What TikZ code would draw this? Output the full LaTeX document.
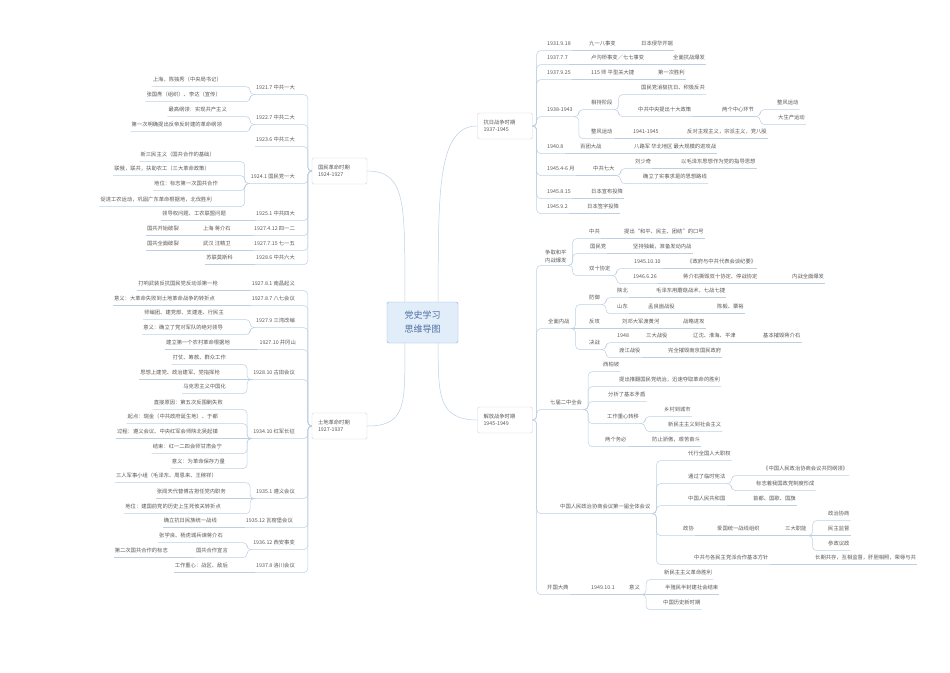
\documentclass[tikz,border=0pt]{standalone}
\usepackage{fontspec}
\setmainfont{Noto Sans CJK SC}
\usepackage{tikz}

\definecolor{txtgray}{HTML}{5A5A5A}
\definecolor{linkblue}{HTML}{BCD0E4}
\definecolor{boxgray}{HTML}{D6D6D6}
\definecolor{rootfill}{HTML}{E2EDFA}
\definecolor{rootdraw}{HTML}{8FB3DB}
\definecolor{roottext}{HTML}{4D6FA0}

\tikzset{
  base/.style={font=\fontsize{5.3}{8}\selectfont, text=txtgray, inner xsep=1pt},
  rt/.style={base, anchor=west, inner ysep=3.5pt, text height=4.6pt, text depth=1.2pt},
  lt/.style={base, anchor=east, inner ysep=3.5pt, text height=4.6pt, text depth=1.2pt},
  period/.style={draw=boxgray, fill=white, rounded corners=1.5pt, align=left,
    font=\fontsize{5.3}{7.5}\selectfont, text=txtgray, text width=43pt,
    inner xsep=6pt, minimum height=26pt},
  root/.style={draw=rootdraw, fill=rootfill, rounded corners=1.5pt, align=center,
    font=\fontsize{9}{14}\selectfont, text=roottext, minimum width=71pt, minimum height=41pt},
  link/.style={draw=linkblue, line width=0.5pt, rounded corners=4pt}
}

\begin{document}
\begin{tikzpicture}[x=1pt,y=-1pt]
    \fill[white] (0,0) rectangle (950,672);
    \useasboundingbox (0,0) rectangle (950,672);
    % Centre
    \node[root] (root) at (422.5,322.5) {党史学习\\思维导图};
    % Periods
    \node[period] (gm) at (339.5,171) {国民革命时期\\1924-1927};
    \node[period] (td) at (339.5,426) {土地革命时期\\1927-1937};
    \node[period] (kr) at (505,126) {抗日战争时期\\1937-1945};
    \node[period] (jf) at (505,420) {解放战争时期\\1945-1949};
    \draw[link] ([xshift=18pt]root.north west) .. controls +(0,-95) and +(40,0) .. (gm.east);
    \draw[link] ([xshift=18pt]root.south west) .. controls +(0,60) and +(40,0) .. (td.east);
    \draw[link] ([xshift=-20pt]root.north east) .. controls +(0,-110) and +(-40,0) .. (kr.west);
    \draw[link] ([xshift=-20pt]root.south east) .. controls +(0,50) and +(-40,0) .. (jf.west);

    % 国民革命时期
    \node[lt] (g1) at (296,88) {1921.7 中共一大};
    \node[lt] (g1a) at (223,80) {上海，陈独秀（中央局书记）};
    \node[lt] (g1b) at (222,95) {张国焘（组织）、李达（宣传）};
    \node[lt] (g2) at (296,118) {1922.7 中共二大};
    \node[lt] (g2a) at (228,110) {最高纲领：实现共产主义};
    \node[lt] (g2b) at (223,125) {第一次明确提出反帝反封建的革命纲领};
    \node[lt] (g3) at (296,140) {1923.6 中共三大};
    \node[lt] (g4) at (296,177) {1924.1 国民党一大};
    \node[lt] (g4a) at (216,155) {新三民主义（国共合作的基础）};
    \node[lt] (g4b) at (211,169) {联俄，联共，扶助农工（三大革命政策）};
    \node[lt] (g4c) at (219,184) {地位：标志第一次国共合作};
    \node[lt] (g4d) at (213,200) {促进工农运动，巩固广东革命根据地，北伐胜利};
    \node[lt] (g5) at (296,214) {1925.1 中共四大};
    \node[lt] (g5a) at (227,214) {领导权问题、工农联盟问题};
    \node[lt] (g6) at (296,229) {1927.4.12 四一二};
    \node[lt] (g6a) at (232,229) {上海 蒋介石};
    \node[lt] (g6b) at (180,229) {国共开始破裂};
    \node[lt] (g7) at (296,244) {1927.7.15 七一五};
    \node[lt] (g7a) at (232,244) {武汉 汪精卫};
    \node[lt] (g7b) at (180,244) {国共全面破裂};
    \node[lt] (g8) at (296,258) {1928.6 中共六大};
    \node[lt] (g8a) at (234,258) {苏联莫斯科};

    % 土地革命时期
    \node[lt] (t1) at (296,284) {1927.8.1 南昌起义};
    \node[lt] (t1a) at (219,284) {打响武装反抗国民党反动派第一枪};
    \node[lt] (t2) at (296,299) {1927.8.7 八七会议};
    \node[lt] (t2a) at (216,299) {意义：大革命失败到土地革命战争的转折点};
    \node[lt] (t3) at (296,321) {1927.9 三湾改编};
    \node[lt] (t3a) at (225,313) {师编团、建党部、支建连、行民主};
    \node[lt] (t3b) at (224,328) {意义：确立了党对军队的绝对领导};
    \node[lt] (t4) at (297,343) {1927.10 井冈山};
    \node[lt] (t4a) at (231,343) {建立第一个农村革命根据地};
    \node[lt] (t5) at (296,373) {1928.10 古田会议};
    \node[lt] (t5a) at (227,358) {打仗、筹款、群众工作};
    \node[lt] (t5b) at (221,373) {思想上建党、政治建军、党指挥枪};
    \node[lt] (t5c) at (227,387) {马克思主义中国化};
    \node[lt] (t6) at (296,432) {1934.10 红军长征};
    \node[lt] (t6a) at (224,403) {直接原因：第五次反围剿失败};
    \node[lt] (t6b) at (219,417) {起点：瑞金（中共政府诞生地）、于都};
    \node[lt] (t6c) at (219,432) {过程：遵义会议、中央红军会师陕北吴起镇};
    \node[lt] (t6d) at (223,447) {结束：红一二四会师甘肃会宁};
    \node[lt] (t6e) at (226,462) {意义：为革命保存力量};
    \node[lt] (t7) at (296,492) {1935.1 遵义会议};
    \node[lt] (t7a) at (218,476) {三人军事小组（毛泽东、周恩来、王稼祥）};
    \node[lt] (t7b) at (227,492) {张闻天代替博古担任党内职务};
    \node[lt] (t7c) at (222,507) {地位：建国前党的历史上生死攸关转折点};
    \node[lt] (t8) at (294,521) {1935.12 瓦窑堡会议};
    \node[lt] (t8a) at (218,521) {确立抗日民族统一战线};
    \node[lt] (t9) at (296,543) {1936.12 西安事变};
    \node[lt] (t9a) at (224,536) {张学良、杨虎城兵谏蒋介石};
    \node[lt] (t9b) at (229,551) {国共合作宣言};
    \node[lt] (t9b1) at (169,551) {第二次国共合作的标志};
    \node[lt] (t10) at (296,566) {1937.8 洛川会议};
    \node[lt] (t10a) at (229,566) {工作重心：战区、敌后};

    % 抗日战争时期
    \node[rt] (k1) at (546,44) {1931.9.18};
    \node[rt] (k1a) at (588,44) {九一八事变};
    \node[rt] (k1b) at (640,44) {日本侵华开端};
    \node[rt] (k2) at (546,58) {1937.7.7};
    \node[rt] (k2a) at (590,58) {卢沟桥事变／七七事变};
    \node[rt] (k2b) at (672,58) {全面抗战爆发};
    \node[rt] (k3) at (546,73) {1937.9.25};
    \node[rt] (k3a) at (590,73) {115 师 平型关大捷};
    \node[rt] (k3b) at (657,73) {第一次胜利};
    \node[rt] (k4) at (546,110) {1938-1943};
    \node[rt] (k4a) at (590,103) {相持阶段};
    \node[rt] (k4a1) at (640,88) {国民党消极抗日、积极反共};
    \node[rt] (k4a2) at (637,110) {中共中央提出十大政策};
    \node[rt] (k4a3) at (721,110) {两个中心环节};
    \node[rt] (k4a4) at (776,103) {整风运动};
    \node[rt] (k4a5) at (777,118) {大生产运动};
    \node[rt] (k4b) at (590,132) {整风运动};
    \node[rt] (k4b1) at (632,132) {1941-1945};
    \node[rt] (k4b2) at (686,132) {反对主观主义，宗派主义，党八股};
    \node[rt] (k5) at (546,147) {1940.8};
    \node[rt] (k5a) at (579,147) {百团大战};
    \node[rt] (k5b) at (633,147) {八路军 华北地区 最大规模的进攻战};
    \node[rt] (k6) at (546,169) {1945.4-6 月};
    \node[rt] (k6a) at (592,169) {中共七大};
    \node[rt] (k6b) at (634,162) {刘少奇};
    \node[rt] (k6c) at (680,162) {以毛泽东思想作为党的指导思想};
    \node[rt] (k6d) at (642,177) {确立了实事求是的思想路线};
    \node[rt] (k7) at (546,192) {1945.8.15};
    \node[rt] (k7a) at (590,192) {日本宣布投降};
    \node[rt] (k8) at (546,207) {1945.9.2};
    \node[rt] (k8a) at (586,207) {日本签字投降};

    % 解放战争时期
    \node[base, anchor=south west, align=center, inner ysep=2pt] (j1) at (544,265.5) {争取和平\\内战爆发};
    \node[rt] (j1a) at (588,232) {中共};
    \node[rt] (j1a1) at (623,232) {提出“和平、民主、团结”的口号};
    \node[rt] (j1b) at (589,247) {国民党};
    \node[rt] (j1b1) at (632,247) {坚持独裁，准备发动内战};
    \node[rt] (j1c) at (588,269) {双十协定};
    \node[rt] (j1c1) at (633,262) {1945.10.10};
    \node[rt] (j1c1a) at (686,262) {《政府与中共代表会谈纪要》};
    \node[rt] (j1c2) at (632,277) {1946.6.26};
    \node[rt] (j1c2a) at (682,277) {蒋介石撕毁双十协定、停战协定};
    \node[rt] (j1c2b) at (791,277) {内战全面爆发};
    \node[rt] (j2) at (547,322) {全面内战};
    \node[rt] (j2a) at (588,298) {防御};
    \node[rt] (j2a1) at (616,291) {陕北};
    \node[rt] (j2a1a) at (655,291) {毛泽东用蘑菇战术，七战七捷};
    \node[rt] (j2a2) at (616,307) {山东};
    \node[rt] (j2a2a) at (647,307) {孟良崮战役};
    \node[rt] (j2a2b) at (716,307) {陈毅、粟裕};
    \node[rt] (j2b) at (588,322) {反攻};
    \node[rt] (j2b1) at (621,322) {刘邓大军渡黄河};
    \node[rt] (j2b2) at (682,322) {战略进攻};
    \node[rt] (j2c) at (588,343) {决战};
    \node[rt] (j2c1) at (616,336) {1948};
    \node[rt] (j2c1a) at (645,336) {三大战役};
    \node[rt] (j2c1b) at (692,336) {辽沈、淮海、平津};
    \node[rt] (j2c1c) at (762,336) {基本摧毁蒋介石};
    \node[rt] (j2c2) at (618,351) {渡江战役};
    \node[rt] (j2c2a) at (667,351) {完全摧毁南京国民政府};
    \node[rt] (j3) at (549,403) {七届二中全会};
    \node[rt] (j3a) at (602,365) {西柏坡};
    \node[rt] (j3b) at (618,380) {提出推翻国民党统治，迅速夺取革命的胜利};
    \node[rt] (j3c) at (607,395) {分析了基本矛盾};
    \node[rt] (j3d) at (606,417) {工作重心转移};
    \node[rt] (j3d1) at (663,410) {乡村到城市};
    \node[rt] (j3d2) at (667,425) {新民主主义到社会主义};
    \node[rt] (j3e) at (604,440) {两个务必};
    \node[rt] (j3e1) at (651,440) {防止骄傲，艰苦奋斗};
    \node[rt] (j4) at (559,507) {中国人民政治协商会议第一届全体会议};
    \node[rt] (j4a) at (687,454) {代行全国人大职权};
    \node[rt] (j4b) at (687,477) {通过了临时宪法};
    \node[rt] (j4b1) at (762,469) {《中国人民政治协商会议共同纲领》};
    \node[rt] (j4b2) at (755,484) {标志着我国政党制度形成};
    \node[rt] (j4c) at (687,499) {中国人民共和国};
    \node[rt] (j4c1) at (752,499) {首都、国歌、国旗};
    \node[rt] (j4d) at (682,529) {政协};
    \node[rt] (j4d1) at (716,529) {爱国统一战线组织};
    \node[rt] (j4d2) at (784,529) {三大职能};
    \node[rt] (j4d3) at (827,514) {政治协商};
    \node[rt] (j4d4) at (827,529) {民主监督};
    \node[rt] (j4d5) at (827,544) {参政议政};
    \node[rt] (j4e) at (693,558) {中共与各民主党派合作基本方针};
    \node[rt] (j4e1) at (814,558) {长期共存，互相监督，肝胆相照，荣辱与共};
    \node[rt] (j5) at (546,588) {开国大典};
    \node[rt] (j5a) at (590,588) {1949.10.1};
    \node[rt] (j5b) at (628,588) {意义};
    \node[rt] (j5b1) at (663,573) {新民主主义革命胜利};
    \node[rt] (j5b2) at (664,588) {半殖民半封建社会结束};
    \node[rt] (j5b3) at (662,603) {中国历史新时期};

    % Links, left side
    \foreach \p/\c in {gm/g1,gm/g2,gm/g3,gm/g4,gm/g5,gm/g6,gm/g7,gm/g8,
        td/t1,td/t2,td/t3,td/t4,td/t5,td/t6,td/t7,td/t8,td/t9,td/t10}
      \draw[link] (\p.west) -- ++(-4,0) |- (\c.south west);
    \foreach \p/\c in {g1/g1a,g1/g1b,g2/g2a,g2/g2b,g4/g4a,g4/g4b,g4/g4c,g4/g4d,
        t3/t3a,t3/t3b,t5/t5a,t5/t5c,t6/t6a,t6/t6b,t6/t6d,t6/t6e,t7/t7a,t7/t7c,t9/t9a,t9/t9b}
      \draw[link] (\p.south west) -- ++(-5,0) |- (\c.south west);
    \foreach \p/\c in {g5/g5a,g6/g6a,g6a/g6b,g7/g7a,g7a/g7b,g8/g8a,
        t1/t1a,t2/t2a,t4/t4a,t5/t5b,t6/t6c,t7/t7b,t8/t8a,t9b/t9b1,t10/t10a}
      \draw[link] (\p.south west) -- (\c.south west);

    % Links, right side
    \foreach \p/\c in {kr/k1,kr/k2,kr/k3,kr/k4,kr/k5,kr/k6,kr/k7,kr/k8,
        jf/j1,jf/j2,jf/j3,jf/j4,jf/j5}
      \draw[link] (\p.east) -- ++(4,0) |- (\c.south east);
    \foreach \p/\c in {k4/k4a,k4/k4b,k4a/k4a1,k4a/k4a2,k4a3/k4a4,k4a3/k4a5,k6a/k6b,k6a/k6d,
        j1/j1a,j1/j1b,j1/j1c,j1c/j1c1,j1c/j1c2,j2/j2a,j2/j2c,j2a/j2a1,j2a/j2a2,j2c/j2c1,j2c/j2c2,
        j3/j3a,j3/j3b,j3/j3c,j3/j3d,j3/j3e,j3d/j3d1,j3d/j3d2,
        j4/j4a,j4/j4b,j4/j4c,j4/j4d,j4/j4e,j4b/j4b1,j4b/j4b2,j4d2/j4d3,j4d2/j4d5,j5b/j5b1,j5b/j5b3}
      \draw[link] (\p.south east) -- ++(5,0) |- (\c.south east);
    \foreach \p/\c in {k1/k1a,k1a/k1b,k2/k2a,k2a/k2b,k3/k3a,k3a/k3b,k4a2/k4a3,k4b/k4b1,k4b1/k4b2,
        k5/k5a,k5a/k5b,k6/k6a,k6b/k6c,k7/k7a,k8/k8a,
        j1a/j1a1,j1b/j1b1,j1c1/j1c1a,j1c2/j1c2a,j1c2a/j1c2b,j2a1/j2a1a,j2a2/j2a2a,j2a2a/j2a2b,
        j2/j2b,j2b/j2b1,j2b1/j2b2,j2c1/j2c1a,j2c1a/j2c1b,j2c1b/j2c1c,j2c2/j2c2a,j3e/j3e1,
        j4c/j4c1,j4d/j4d1,j4d1/j4d2,j4d2/j4d4,j4e/j4e1,j5/j5a,j5a/j5b,j5b/j5b2}
      \draw[link] (\p.south east) -- (\c.south east);
\end{tikzpicture}
\end{document}
